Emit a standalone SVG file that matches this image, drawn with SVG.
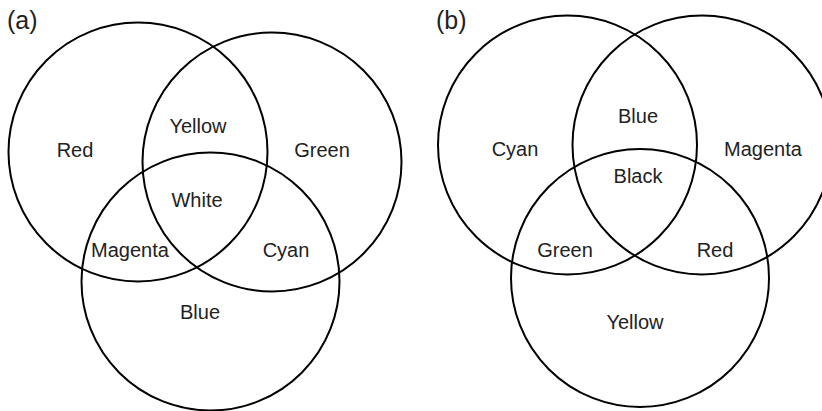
<svg xmlns="http://www.w3.org/2000/svg" width="822" height="411" viewBox="0 0 822 411">
<style>
.c{fill:none;stroke:#000;stroke-width:2}
.t{font-family:"Liberation Sans",Arial,sans-serif;font-size:20px;fill:#222;text-anchor:middle}
.p{font-family:"Liberation Sans",Arial,sans-serif;font-size:25px;fill:#222}
</style>
<rect width="822" height="411" fill="#fff"/>
<g id="panel-a">
<text class="p" x="7" y="29">(a)</text>
<g id="a-red"><circle class="c" cx="138" cy="152" r="129.5"/></g>
<g id="a-green"><circle class="c" cx="272" cy="162" r="129.5"/></g>
<g id="a-blue"><circle class="c" cx="210.5" cy="281.5" r="129"/></g>
<text class="t" x="75" y="157">Red</text>
<text class="t" x="198" y="133">Yellow</text>
<text class="t" x="322" y="157">Green</text>
<text class="t" x="197" y="207">White</text>
<text class="t" x="130" y="257">Magenta</text>
<text class="t" x="286" y="257">Cyan</text>
<text class="t" x="200" y="319">Blue</text>
</g>
<g id="panel-b">
<text class="p" x="436" y="29">(b)</text>
<g id="b-cyan"><circle class="c" cx="567.5" cy="145" r="129.5"/></g>
<g id="b-magenta"><circle class="c" cx="702" cy="145" r="129.5"/></g>
<g id="b-yellow"><circle class="c" cx="640" cy="278" r="129"/></g>
<text class="t" x="515" y="156">Cyan</text>
<text class="t" x="638" y="123">Blue</text>
<text class="t" x="763" y="156">Magenta</text>
<text class="t" x="638" y="183">Black</text>
<text class="t" x="565" y="257">Green</text>
<text class="t" x="715" y="257">Red</text>
<text class="t" x="635" y="329">Yellow</text>
</g>
</svg>
